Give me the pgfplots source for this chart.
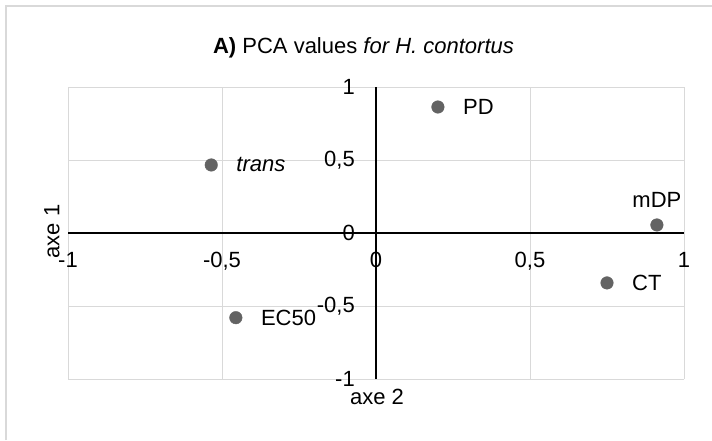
\documentclass[border=0pt]{standalone}
\usepackage{fontspec}
\setmainfont{Liberation Sans}
\usepackage{pgfplots}
\pgfplotsset{compat=1.18}
\definecolor{gridgray}{RGB}{217,217,217}
\definecolor{ptgray}{RGB}{99,99,99}
\begin{document}
\begin{tikzpicture}[x=1pt,y=1pt]
\path[use as bounding box] (0,0) rectangle (712,440);
\draw[gridgray, line width=1.5pt] (6,0) -- (6,434) -- (712,434);
\begin{axis}[
 at={(68pt,61pt)}, anchor=south west,
 scale only axis, width=616pt, height=292pt,
 xmin=-1, xmax=1, ymin=-1, ymax=1,
 axis lines=middle, axis line style={-, black, line width=1.3pt},
 hide obscured x ticks=false, hide obscured y ticks=false,
 xtick={-1,-0.5,0,0.5,1}, ytick={-1,-0.5,0,0.5,1},
 major tick length=0pt,
 grid=major, grid style={gridgray, line width=1pt},
 font=\fontsize{22}{26}\selectfont,
 /pgf/number format/assume math mode=true,
 /pgf/number format/use comma,
 xticklabel style={anchor=north, inner sep=0pt, yshift=-19pt},
 yticklabel style={anchor=east, inner sep=0pt, xshift=-21pt},
 title={\textbf{A)} PCA values \textit{for H. contortus}},
 every axis title/.style={anchor=base, at={(axis description cs:0.4797,1.1164)}, inner sep=0pt},
 xlabel={axe 2},
 every axis x label/.style={anchor=base, at={(axis description cs:0.5016,-0.089)}, inner sep=0pt},
 ylabel={axe 1},
 every axis y label/.style={anchor=center, rotate=90, at={(axis description cs:-0.026,0.505)}, inner sep=0pt},
 clip=false,
]
\addplot[only marks, mark=*, mark size=6.3pt, color=ptgray,
  point meta=explicit symbolic, nodes near coords,
  every node near coord/.style={anchor=west, inner sep=0pt, xshift=25pt, text=black}]
  coordinates {(0.201,0.863) [PD] (-0.535,0.466) [\textit{trans}] (-0.455,-0.58) [EC50] (0.75,-0.342) [CT]};
\addplot[only marks, mark=*, mark size=6.3pt, color=ptgray,
  point meta=explicit symbolic, nodes near coords,
  every node near coord/.style={anchor=base, inner sep=0pt, yshift=17pt, text=black}]
  coordinates {(0.912,0.055) [mDP]};
\end{axis}
\end{tikzpicture}
\end{document}
